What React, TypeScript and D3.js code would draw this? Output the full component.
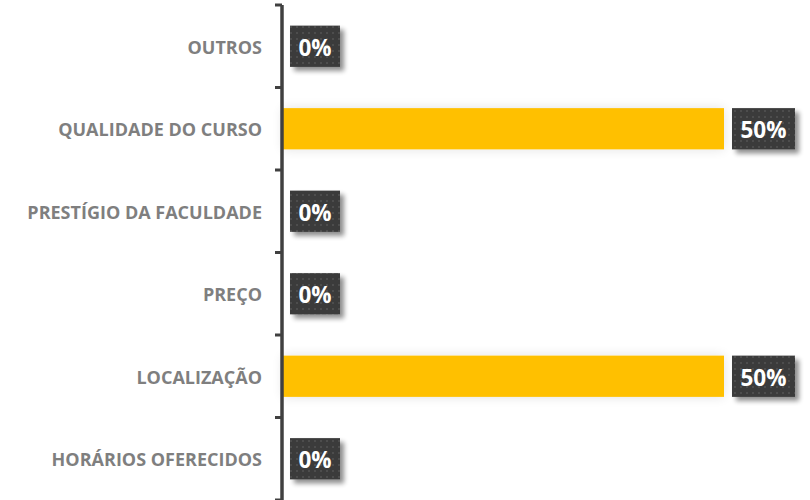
import React from "react";
import * as d3 from "d3";

const categories = [
  "OUTROS",
  "QUALIDADE DO CURSO",
  "PRESTÍGIO DA FACULDADE",
  "PREÇO",
  "LOCALIZAÇÃO",
  "HORÁRIOS OFERECIDOS",
];
const values = [0, 50, 0, 0, 50, 0];
const valueLabels = ["0%", "50%", "0%", "0%", "50%", "0%"];

const W = 810;
const H = 500;
const axisX = 282;

export default function App() {
  const y = d3.scaleBand<string>().domain(categories).range([5, 500]).paddingInner(0.5).paddingOuter(0.25);
  const yb = d3.scaleBand<string>().domain(categories).range([5, 500]);
  const x = d3.scaleLinear().domain([0, 50]).range([axisX + 1, 724]);
  const ticks = [...categories.map((c) => yb(c)!), 500];
  const labelFont = "'Open Sans', Lato, sans-serif";

  return (
    <svg width={W} height={H} style={{ position: "absolute", left: 0, top: 0, background: "#fff" }}>
      <defs>
        <pattern id="dots" width="6" height="6" patternUnits="userSpaceOnUse">
          <rect width="6" height="6" fill="#3a3a3a" />
          <rect x="2" y="2" width="2" height="2" fill="#4d4d4d" />
        </pattern>
        <filter id="boxShadow" x="-30%" y="-30%" width="170%" height="170%">
          <feGaussianBlur in="SourceAlpha" stdDeviation="2.5" />
          <feOffset dx="4" dy="4" result="b" />
          <feComponentTransfer>
            <feFuncA type="linear" slope="0.45" />
          </feComponentTransfer>
          <feMerge>
            <feMergeNode />
            <feMergeNode in="SourceGraphic" />
          </feMerge>
        </filter>
        <filter id="barGlow" x="-10%" y="-60%" width="120%" height="220%">
          <feGaussianBlur in="SourceAlpha" stdDeviation="6" />
          <feOffset dx="0" dy="0" />
          <feComponentTransfer>
            <feFuncA type="linear" slope="0.12" />
          </feComponentTransfer>
          <feMerge>
            <feMergeNode />
            <feMergeNode in="SourceGraphic" />
          </feMerge>
        </filter>
      </defs>

      {categories.map((c, i) => {
        const yy = y(c)!;
        const h = y.bandwidth();
        const x1 = x(values[i]);
        const lbl = valueLabels[i];
        const bw = lbl.length === 2 ? 50 : 63;
        const bx = (values[i] > 0 ? x1 : axisX) + 8;
        return (
          <g key={c}>
            {values[i] > 0 && (
              <rect x={x(0)} y={yy} width={x1 - x(0)} height={h} fill="#FFC000" filter="url(#barGlow)" />
            )}
            <text
              x={262}
              y={yy + h / 2 + 0.5}
              textAnchor="end"
              dominantBaseline="central"
              fill="#7f7f7f"
              fontFamily={labelFont}
              fontWeight="bold"
              fontSize={18}
            >
              {c}
            </text>
            <g filter="url(#boxShadow)">
              <rect x={bx} y={yy} width={bw} height={h} fill="url(#dots)" />
            </g>
            <text
              x={bx + bw / 2}
              y={yy + h / 2 + 1}
              textAnchor="middle"
              dominantBaseline="central"
              fill="#fff"
              fontFamily={labelFont}
              fontWeight="bold"
              fontSize={22.5}
            >
              {lbl}
            </text>
          </g>
        );
      })}

      <line x1={axisX} x2={axisX} y1={5} y2={500} stroke="#404040" strokeWidth={3.5} />
      {ticks.map((t, i) => (
        <line key={i} x1={275} x2={axisX} y1={t} y2={t} stroke="#404040" strokeWidth={3} />
      ))}
    </svg>
  );
}
